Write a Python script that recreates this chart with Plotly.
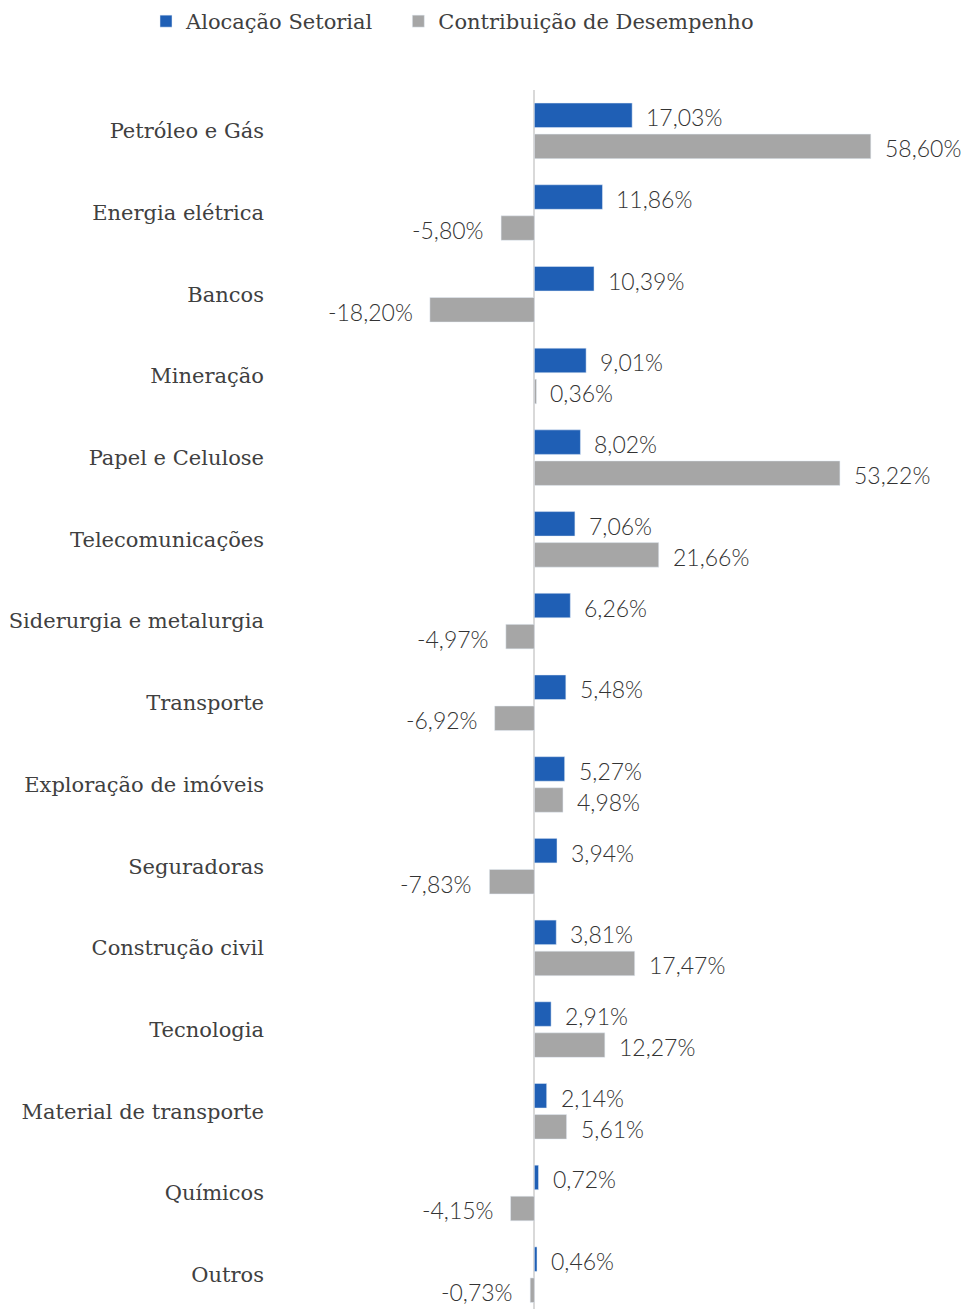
import plotly.graph_objects as go

categories = ["Petróleo e Gás", "Energia elétrica", "Bancos", "Mineração", "Papel e Celulose",
              "Telecomunicações", "Siderurgia e metalurgia", "Transporte", "Exploração de imóveis",
              "Seguradoras", "Construção civil", "Tecnologia", "Material de transporte",
              "Químicos", "Outros"]
alocacao = [17.03, 11.86, 10.39, 9.01, 8.02, 7.06, 6.26, 5.48, 5.27, 3.94, 3.81, 2.91, 2.14, 0.72, 0.46]
contribuicao = [58.60, -5.80, -18.20, 0.36, 53.22, 21.66, -4.97, -6.92, 4.98, -7.83, 17.47, 12.27, 5.61, -4.15, -0.73]

BLUE = "#1f5fb5"
GRAY = "#a6a6a6"
TXT = "#333333"
CAT_TXT = "#404040"
CAT_FONT = "DejaVu Serif"
VAL_FONT = "Lato"

def fmt(v):
    return f"{v:.2f}".replace(".", ",") + "%"

fig = go.Figure()
fig.add_trace(go.Bar(name="Alocação Setorial" + "\u00a0" * 3, y=categories, x=alocacao, orientation="h",
                     marker_color=BLUE, hoverinfo="skip"))
fig.add_trace(go.Bar(name="Contribuição de Desempenho", y=categories, x=contribuicao, orientation="h",
                     marker_color=GRAY, hoverinfo="skip"))

annotations = []
for series, shift in ((alocacao, 13.5), (contribuicao, -17.5)):
    for c, v in zip(categories, series):
        pos = v >= 0
        annotations.append(dict(
            x=v, y=c, xref="x", yref="y", text=fmt(v), showarrow=False,
            xanchor="left" if pos else "right", xshift=12 if pos else -15, yshift=shift,
            font=dict(family=VAL_FONT, size=23, color=TXT, weight=300)))

fig.update_layout(
    width=969, height=1309,
    margin=dict(l=272, r=0, t=90, b=0),
    paper_bgcolor="white", plot_bgcolor="white",
    barmode="group", bargap=0.24, bargroupgap=0.21,
    showlegend=True,
    legend=dict(orientation="h", x=146 / 969, xanchor="left", y=1 - 1 / 1309, yanchor="top",
                xref="container", yref="container",
                font=dict(family=CAT_FONT, size=21, color=CAT_TXT, weight=300),
                traceorder="normal"),
    annotations=annotations,
    xaxis=dict(range=[-45.7, 75.7], showgrid=False, showticklabels=False, zeroline=True,
               zerolinecolor="#d9d9d9", zerolinewidth=2, fixedrange=True),
    yaxis=dict(type="category", autorange=False, range=[14.42, -0.5], showgrid=False,
               showline=False, ticks="", zeroline=False, ticklabelstandoff=7,
               tickfont=dict(family=CAT_FONT, size=21, color=CAT_TXT, weight=300)),
)

fig.write_html("out.html")
